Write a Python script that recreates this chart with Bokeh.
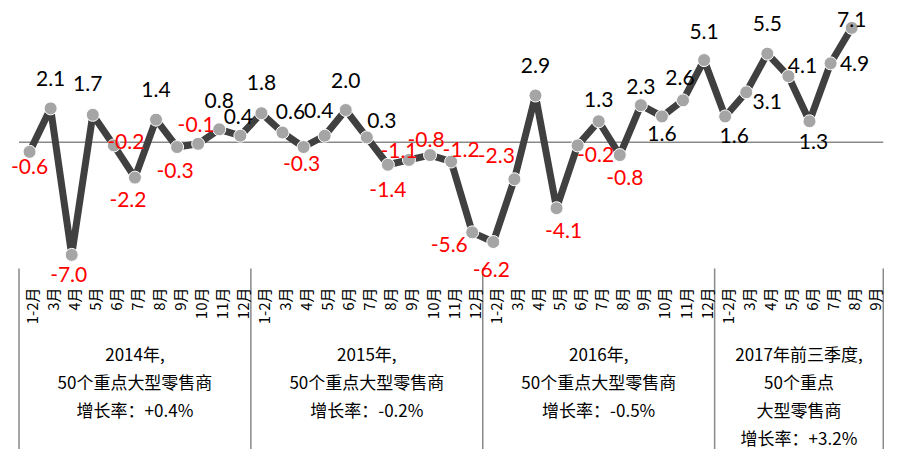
import math
from bokeh.plotting import figure
from bokeh.models import Range1d, ColumnDataSource
from bokeh.core.properties import value
from bokeh.embed import file_html
from bokeh.resources import INLINE

# ---------------- data ----------------
years = ["2014", "2015", "2016", "2017"]
months_full_year = ["1-2月", "3月", "4月", "5月", "6月", "7月", "8月", "9月", "10月", "11月", "12月"]
months_2017 = ["1-2月", "3月", "4月", "5月", "6月", "7月", "8月", "9月"]

growth_2014 = [-0.6, 2.1, -7.0, 1.7, -0.2, -2.2, 1.4, -0.3, -0.1, 0.8, 0.4]
growth_2015 = [1.8, 0.6, -0.3, 0.4, 2.0, 0.3, -1.4, -1.1, -0.8, -1.2, -5.6]
growth_2016 = [-6.2, -2.3, 2.9, -4.1, -0.2, 1.3, -0.8, 2.3, 1.6, 2.6, 5.1]
growth_2017 = [1.6, 3.1, 5.5, 4.1, 1.3, 4.9, 7.1, None]

group_titles = [
    ["2014年,", "50个重点大型零售商", "增长率：+0.4%"],
    ["2015年,", "50个重点大型零售商", "增长率：-0.2%"],
    ["2016年,", "50个重点大型零售商", "增长率：-0.5%"],
    ["2017年前三季度,", "50个重点", "大型零售商", "增长率：+3.2%"],
]

# label placement (screen px offsets of each data label from its point)
label_dx = [0, 0, -3, -5, 12, -7, 0, -2, -2, 0, -2,
            0, 8, -2, -6, 0, 15, 0, -10, -4, 10, -23,
            -2, -18, 0, 7, 18, 0, 5, 0, 0, -3, 0,
            9, 21, 0, 14, 4, 24, 0]
label_dy = [15, -30, 20, -31, -4, 22, -30, 23, -19, -29, -19,
            -31, -21, 16, -25, -30, -17, 25, -9, -16, -12, 12,
            27, -24, -30, 22, 9, -22, 22, -19, 17, -23, -29,
            19, 9, -30, -11, 20, 0, -8]

# ---------------- layout ----------------
W, H = 884, 449
ZERO_Y = 141.7          # px of value 0 from top
PPU = 16.1              # px per percentage point
LEFT_X = 18.5           # px of first category boundary
CAT_W = 21.08           # px per category

months = []
values = []
group_bounds = []
k = 0
for yr, ms, vals in zip(years,
                        [months_full_year, months_full_year, months_full_year, months_2017],
                        [growth_2014, growth_2015, growth_2016, growth_2017]):
    group_bounds.append((k, k + len(ms)))
    months += ms
    values += vals
    k += len(ms)
n_cat = k

def y_of_px(py):
    return (ZERO_Y - py) / PPU

x_start = -LEFT_X / CAT_W
x_end = (W - LEFT_X) / CAT_W
y_start = y_of_px(H)
y_end = y_of_px(0)

p = figure(width=W, height=H, output_backend="svg", toolbar_location=None,
           x_range=Range1d(x_start, x_end), y_range=Range1d(y_start, y_end),
           x_axis_location=None, y_axis_location=None,
           min_border=0, outline_line_color=None)
p.xgrid.visible = False
p.ygrid.visible = False
p.background_fill_color = "white"
p.border_fill_color = "white"

# zero line
p.segment(x0=[0], y0=[0], x1=[n_cat], y1=[0], line_color="#898989", line_width=1.5)

# group separators
sep_x = [b[0] for b in group_bounds] + [n_cat]
p.segment(x0=sep_x, y0=[y_of_px(268)] * len(sep_x), x1=sep_x, y1=[y_start] * len(sep_x),
          line_color="#898989", line_width=1.5)

# data line + markers
xs = [i + 0.5 for i in range(n_cat)]
ys = [float("nan") if v is None else v for v in values]
p.line(xs, ys, line_color="#404040", line_width=7, line_join="round")
p.scatter(xs, ys, marker="circle", size=13, fill_color="#A5A5A5", line_color="white", line_width=1)

# data labels
lx, ly, lt, lc = [], [], [], []
for i, v in enumerate(values):
    if v is None:
        continue
    lx.append(xs[i]); ly.append(v)
    lt.append(f"{v:.1f}")
    lc.append("#FF0000" if v < 0 else "#000000")
lsrc = ColumnDataSource(dict(x=lx, y=ly, text=lt, color=lc,
                             dx=label_dx[:len(lx)], dy=label_dy[:len(lx)]))
p.text(x="x", y="y", text="text", source=lsrc, text_color="color",
       x_offset="dx", y_offset="dy", text_align="center", text_baseline="middle",
       text_font=value("Lato"), text_font_size="21px")

# month tick labels (rotated)
p.text(x=xs, y=[y_of_px(287)] * n_cat, text=months, angle=math.pi / 2,
       text_align="right", text_baseline="middle", x_offset=2,
       text_font=value("Noto Sans CJK SC"), text_font_size="15px", text_color="#000000")

# group titles
gx, gy, gt = [], [], []
for (a, b), lines in zip(group_bounds, group_titles):
    for j, t in enumerate(lines):
        gx.append((a + b) / 2)
        gy.append(y_of_px(353 + 28 * j))
        gt.append(t)
p.text(x=gx, y=gy, text=gt, text_align="center", text_baseline="middle",
       text_font=value("Noto Sans CJK SC"), text_font_size="17px", text_color="#000000")

open("out.html", "w").write(file_html(p, INLINE))
